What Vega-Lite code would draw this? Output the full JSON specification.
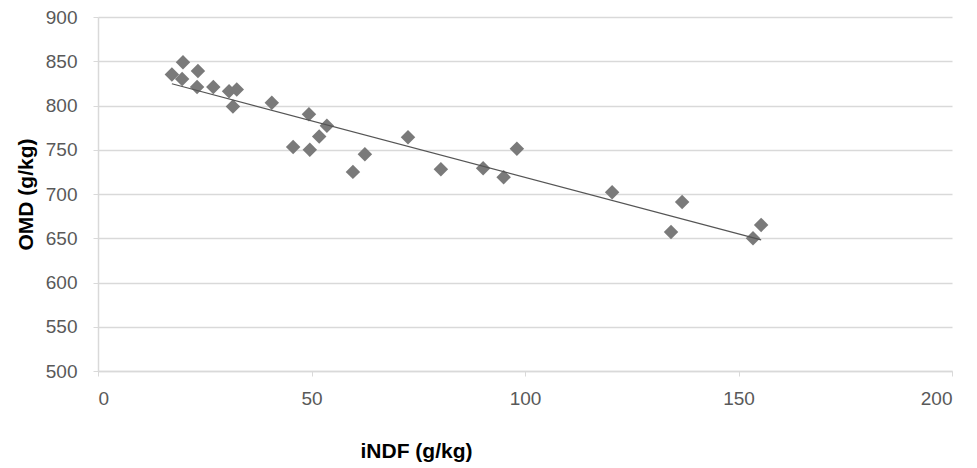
{
  "$schema": "https://vega.github.io/schema/vega-lite/v6.json",
  "autosize": {"type": "none"},
  "width": 854,
  "height": 354,
  "padding": {"left": 98, "top": 17, "right": 25, "bottom": 97},
  "background": "white",
  "config": {
    "view": {"stroke": null},
    "font": "Liberation Sans"
  },
  "data": {
    "values": [
      {"iNDF": 17.3, "OMD": 835},
      {"iNDF": 19.7, "OMD": 830},
      {"iNDF": 19.9, "OMD": 849},
      {"iNDF": 23.4, "OMD": 839},
      {"iNDF": 23.2, "OMD": 821},
      {"iNDF": 27.0, "OMD": 821},
      {"iNDF": 30.7, "OMD": 816},
      {"iNDF": 32.5, "OMD": 818},
      {"iNDF": 31.6, "OMD": 799},
      {"iNDF": 40.7, "OMD": 803},
      {"iNDF": 45.7, "OMD": 753},
      {"iNDF": 49.4, "OMD": 790},
      {"iNDF": 49.6, "OMD": 750},
      {"iNDF": 51.8, "OMD": 765},
      {"iNDF": 53.6, "OMD": 777},
      {"iNDF": 59.7, "OMD": 725},
      {"iNDF": 62.5, "OMD": 745},
      {"iNDF": 72.6, "OMD": 764},
      {"iNDF": 80.3, "OMD": 728},
      {"iNDF": 90.2, "OMD": 729},
      {"iNDF": 95.0, "OMD": 719},
      {"iNDF": 98.1, "OMD": 751},
      {"iNDF": 120.4, "OMD": 702},
      {"iNDF": 134.2, "OMD": 657},
      {"iNDF": 136.8, "OMD": 691},
      {"iNDF": 153.4, "OMD": 650},
      {"iNDF": 155.3, "OMD": 665}
    ]
  },
  "layer": [
    {
      "mark": {"type": "point", "shape": "diamond", "filled": true, "color": "#7a7a7a", "opacity": 1, "size": 210},
      "encoding": {
        "x": {
          "field": "iNDF", "type": "quantitative",
          "scale": {"domain": [0, 200], "nice": false, "zero": true},
          "axis": {
            "values": [0, 50, 100, 150, 200],
            "title": "iNDF (g/kg)",
            "titleFont": "Liberation Sans",
            "titleFontSize": 21,
            "titleFontWeight": "bold",
            "titleColor": "#000000",
            "titleX": 318,
            "titleY": 69,
            "titleAlign": "center",
            "labelFontSize": 19,
            "labelColor": "#595959",
            "labelPadding": 13,
            "grid": false,
            "domain": true,
            "domainColor": "#d9d9d9",
            "domainWidth": 1.5,
            "ticks": true,
            "tickColor": "#d9d9d9",
            "tickSize": 5
          }
        },
        "y": {
          "field": "OMD", "type": "quantitative",
          "scale": {"domain": [500, 900], "nice": false, "zero": false},
          "axis": {
            "values": [500, 550, 600, 650, 700, 750, 800, 850, 900],
            "title": "OMD (g/kg)",
            "titleFont": "Liberation Sans",
            "titleFontSize": 21,
            "titleFontWeight": "bold",
            "titleColor": "#000000",
            "titlePadding": 9,
            "labelFontSize": 19,
            "labelColor": "#595959",
            "labelPadding": 16,
            "grid": true,
            "gridColor": "#d9d9d9",
            "gridWidth": 1.5,
            "domain": true,
            "domainColor": "#d9d9d9",
            "domainWidth": 1.5,
            "ticks": true,
            "tickColor": "#d9d9d9",
            "tickSize": 5
          }
        }
      }
    },
    {
      "transform": [{"regression": "OMD", "on": "iNDF"}],
      "mark": {"type": "line", "color": "#555555", "strokeWidth": 1.2},
      "encoding": {
        "x": {"field": "iNDF", "type": "quantitative"},
        "y": {"field": "OMD", "type": "quantitative"}
      }
    }
  ]
}
